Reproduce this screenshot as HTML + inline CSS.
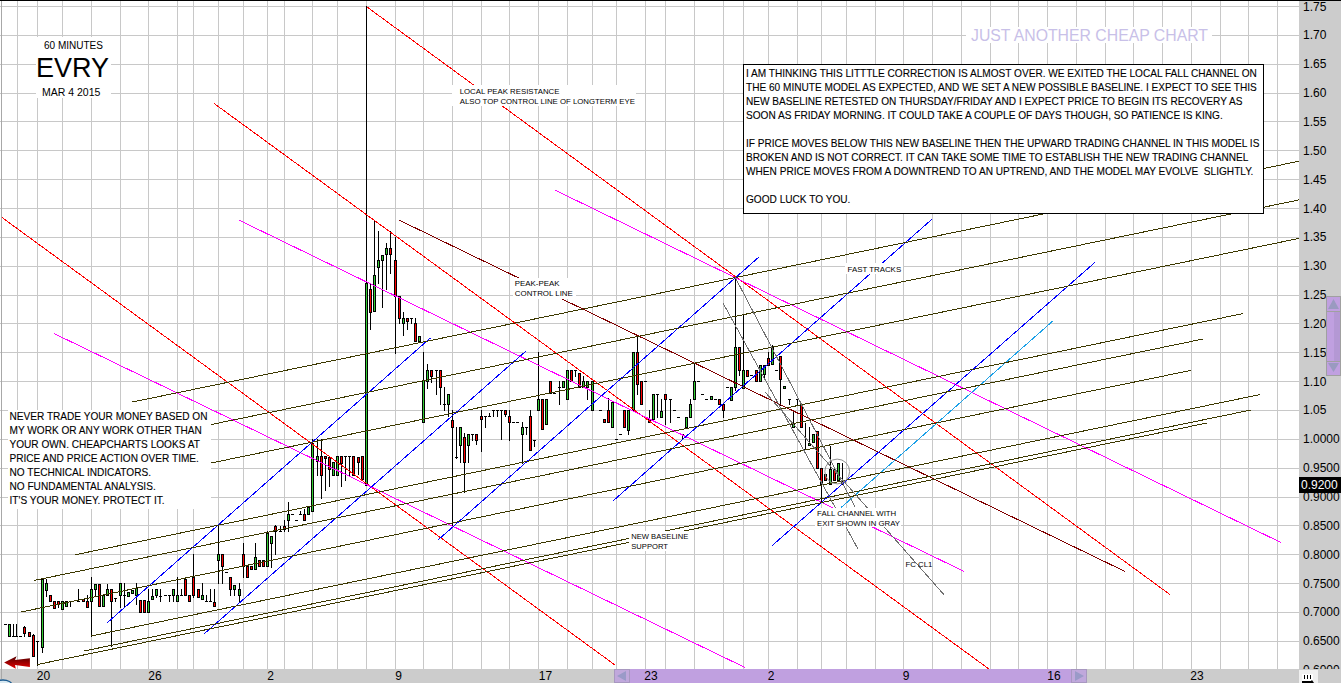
<!DOCTYPE html><html><head><meta charset="utf-8"><style>
html,body{margin:0;padding:0;background:#fff;overflow:hidden;}
#c{position:relative;width:1341px;height:683px;overflow:hidden;font-family:"Liberation Sans",sans-serif;}
svg{position:absolute;left:0;top:0;}
.t{position:absolute;white-space:pre;color:#000;} .s{-webkit-text-stroke:0.1px currentColor;}
.bg{position:absolute;background:#fff;}
.ax{position:absolute;font-size:12px;line-height:14px;color:#000;white-space:pre;}
</style></head><body><div id="c">
<svg width="1341" height="683" viewBox="0 0 1341 683" shape-rendering="crispEdges">
<path d="M17.5 0V669M37.5 0V669M62.5 0V669M91.5 0V669M120.5 0V669M148.5 0V669M177.5 0V669M193.5 0V669M218.5 0V669M243.5 0V669M267.5 0V669M284.5 0V669M312.5 0V669M337.5 0V669M366.5 0V669M395.5 0V669M423.5 0V669M452.5 0V669M481.5 0V669M509.5 0V669M538.5 0V669M567.5 0V669M592.5 0V669M616.5 0V669M645.5 0V669M665.5 0V669M694.5 0V669M723.5 0V669M743.5 0V669M768.5 0V669M797.5 0V669M821.5 0V669M846.5 0V669M875.5 0V669M903.5 0V669M932.5 0V669M961.5 0V669M990.5 0V669M1018.5 0V669M1047.5 0V669M1076.5 0V669M1105.5 0V669M1133.5 0V669M1162.5 0V669M1191.5 0V669M1220.5 0V669M1248.5 0V669M1277.5 0V669M0 6.5H1299M0 35.5H1299M0 64.5H1299M0 93.5H1299M0 121.5H1299M0 150.5H1299M0 179.5H1299M0 208.5H1299M0 237.5H1299M0 266.5H1299M0 295.5H1299M0 323.5H1299M0 352.5H1299M0 381.5H1299M0 410.5H1299M0 439.5H1299M0 468.5H1299M0 497.5H1299M0 525.5H1299M0 554.5H1299M0 583.5H1299M0 612.5H1299M0 641.5H1299" stroke="#c8c8c8" stroke-width="1" fill="none"/>
<path d="M1.5 0V679" stroke="#a8a8a8" stroke-width="1"/>
<g><rect x="4" y="624" width="3" height="1" fill="#000"/><rect x="9" y="624" width="1" height="13" fill="#000"/><rect x="8" y="624" width="3" height="13" fill="#000"/><rect x="9" y="625" width="1" height="11" fill="#33cc33"/><rect x="13" y="624" width="1" height="13" fill="#000"/><rect x="12" y="636" width="3" height="1" fill="#000"/><rect x="16" y="624" width="1" height="13" fill="#000"/><rect x="15" y="636" width="3" height="1" fill="#000"/><rect x="19" y="636" width="3" height="1" fill="#000"/><rect x="24" y="626" width="1" height="11" fill="#000"/><rect x="23" y="627" width="3" height="7" fill="#000"/><rect x="24" y="628" width="1" height="5" fill="#ff0000"/><rect x="29" y="632" width="1" height="5" fill="#000"/><rect x="28" y="632" width="3" height="5" fill="#000"/><rect x="29" y="633" width="1" height="3" fill="#ff0000"/><rect x="33" y="634" width="1" height="23" fill="#000"/><rect x="32" y="635" width="3" height="22" fill="#000"/><rect x="33" y="636" width="1" height="20" fill="#ff0000"/><rect x="37" y="641" width="1" height="25" fill="#000"/><rect x="36" y="641" width="3" height="1" fill="#000"/><rect x="42" y="579" width="1" height="74" fill="#000"/><rect x="41" y="579" width="3" height="69" fill="#000"/><rect x="42" y="580" width="1" height="67" fill="#33cc33"/><rect x="46" y="579" width="1" height="18" fill="#000"/><rect x="45" y="583" width="3" height="8" fill="#000"/><rect x="46" y="584" width="1" height="6" fill="#33cc33"/><rect x="50" y="595" width="1" height="7" fill="#000"/><rect x="49" y="595" width="3" height="7" fill="#000"/><rect x="50" y="596" width="1" height="5" fill="#ff0000"/><rect x="54" y="601" width="1" height="8" fill="#000"/><rect x="53" y="601" width="3" height="8" fill="#000"/><rect x="54" y="602" width="1" height="6" fill="#ff0000"/><rect x="58" y="601" width="1" height="7" fill="#000"/><rect x="57" y="601" width="3" height="4" fill="#000"/><rect x="58" y="602" width="1" height="2" fill="#ff0000"/><rect x="62" y="601" width="1" height="9" fill="#000"/><rect x="61" y="601" width="3" height="9" fill="#000"/><rect x="62" y="602" width="1" height="7" fill="#33cc33"/><rect x="66" y="601" width="1" height="6" fill="#000"/><rect x="65" y="601" width="3" height="6" fill="#000"/><rect x="66" y="602" width="1" height="4" fill="#33cc33"/><rect x="70" y="601" width="1" height="6" fill="#000"/><rect x="69" y="601" width="3" height="1" fill="#000"/><rect x="78" y="589" width="1" height="13" fill="#000"/><rect x="77" y="601" width="3" height="1" fill="#000"/><rect x="83" y="599" width="1" height="3" fill="#000"/><rect x="82" y="599" width="3" height="3" fill="#000"/><rect x="83" y="600" width="1" height="1" fill="#ff0000"/><rect x="87" y="595" width="1" height="13" fill="#000"/><rect x="86" y="601" width="3" height="7" fill="#000"/><rect x="87" y="602" width="1" height="5" fill="#ff0000"/><rect x="91" y="577" width="1" height="60" fill="#000"/><rect x="90" y="589" width="3" height="13" fill="#000"/><rect x="91" y="590" width="1" height="11" fill="#33cc33"/><rect x="95" y="584" width="1" height="12" fill="#000"/><rect x="94" y="584" width="3" height="6" fill="#000"/><rect x="95" y="585" width="1" height="4" fill="#33cc33"/><rect x="99" y="584" width="1" height="23" fill="#000"/><rect x="98" y="584" width="3" height="23" fill="#000"/><rect x="99" y="585" width="1" height="21" fill="#ff0000"/><rect x="103" y="595" width="1" height="12" fill="#000"/><rect x="102" y="595" width="3" height="12" fill="#000"/><rect x="103" y="596" width="1" height="10" fill="#33cc33"/><rect x="107" y="584" width="1" height="12" fill="#000"/><rect x="106" y="589" width="3" height="7" fill="#000"/><rect x="107" y="590" width="1" height="5" fill="#33cc33"/><rect x="111" y="589" width="1" height="58" fill="#000"/><rect x="110" y="589" width="3" height="13" fill="#000"/><rect x="111" y="590" width="1" height="11" fill="#ff0000"/><rect x="115" y="598" width="1" height="4" fill="#000"/><rect x="114" y="598" width="3" height="1" fill="#000"/><rect x="120" y="583" width="1" height="25" fill="#000"/><rect x="119" y="583" width="3" height="13" fill="#000"/><rect x="120" y="584" width="1" height="11" fill="#33cc33"/><rect x="124" y="583" width="1" height="24" fill="#000"/><rect x="123" y="595" width="3" height="1" fill="#000"/><rect x="128" y="592" width="1" height="5" fill="#000"/><rect x="127" y="592" width="3" height="5" fill="#000"/><rect x="128" y="593" width="1" height="3" fill="#33cc33"/><rect x="132" y="590" width="1" height="4" fill="#000"/><rect x="131" y="590" width="3" height="4" fill="#000"/><rect x="132" y="591" width="1" height="2" fill="#33cc33"/><rect x="136" y="583" width="1" height="22" fill="#000"/><rect x="135" y="588" width="3" height="8" fill="#000"/><rect x="136" y="589" width="1" height="6" fill="#33cc33"/><rect x="140" y="600" width="1" height="13" fill="#000"/><rect x="139" y="600" width="3" height="13" fill="#000"/><rect x="140" y="601" width="1" height="11" fill="#ff0000"/><rect x="144" y="600" width="1" height="13" fill="#000"/><rect x="143" y="600" width="3" height="13" fill="#000"/><rect x="144" y="601" width="1" height="11" fill="#ff0000"/><rect x="148" y="589" width="1" height="24" fill="#000"/><rect x="147" y="601" width="3" height="12" fill="#000"/><rect x="148" y="602" width="1" height="10" fill="#33cc33"/><rect x="152" y="589" width="1" height="11" fill="#000"/><rect x="151" y="596" width="3" height="4" fill="#000"/><rect x="152" y="597" width="1" height="2" fill="#33cc33"/><rect x="156" y="589" width="1" height="9" fill="#000"/><rect x="155" y="589" width="3" height="7" fill="#000"/><rect x="156" y="590" width="1" height="5" fill="#33cc33"/><rect x="160" y="589" width="1" height="13" fill="#000"/><rect x="159" y="596" width="3" height="1" fill="#000"/><rect x="164" y="595" width="3" height="1" fill="#000"/><rect x="169" y="595" width="1" height="7" fill="#000"/><rect x="168" y="595" width="3" height="1" fill="#000"/><rect x="173" y="589" width="1" height="13" fill="#000"/><rect x="172" y="589" width="3" height="7" fill="#000"/><rect x="173" y="590" width="1" height="5" fill="#33cc33"/><rect x="177" y="577" width="1" height="25" fill="#000"/><rect x="176" y="595" width="3" height="7" fill="#000"/><rect x="177" y="596" width="1" height="5" fill="#33cc33"/><rect x="181" y="589" width="1" height="7" fill="#000"/><rect x="180" y="595" width="3" height="1" fill="#000"/><rect x="185" y="579" width="1" height="17" fill="#000"/><rect x="184" y="579" width="3" height="17" fill="#000"/><rect x="185" y="580" width="1" height="15" fill="#ff0000"/><rect x="189" y="595" width="1" height="7" fill="#000"/><rect x="188" y="595" width="3" height="7" fill="#000"/><rect x="189" y="596" width="1" height="5" fill="#ff0000"/><rect x="193" y="554" width="1" height="44" fill="#000"/><rect x="192" y="577" width="3" height="19" fill="#000"/><rect x="193" y="578" width="1" height="17" fill="#ff0000"/><rect x="198" y="589" width="1" height="9" fill="#000"/><rect x="197" y="589" width="3" height="9" fill="#000"/><rect x="198" y="590" width="1" height="7" fill="#ff0000"/><rect x="202" y="583" width="1" height="17" fill="#000"/><rect x="201" y="595" width="3" height="5" fill="#000"/><rect x="202" y="596" width="1" height="3" fill="#33cc33"/><rect x="206" y="595" width="1" height="7" fill="#000"/><rect x="205" y="601" width="3" height="1" fill="#000"/><rect x="210" y="589" width="1" height="13" fill="#000"/><rect x="209" y="601" width="3" height="1" fill="#000"/><rect x="214" y="589" width="1" height="18" fill="#000"/><rect x="213" y="602" width="3" height="5" fill="#000"/><rect x="214" y="603" width="1" height="3" fill="#ff0000"/><rect x="218" y="525" width="1" height="59" fill="#000"/><rect x="217" y="554" width="3" height="7" fill="#000"/><rect x="218" y="555" width="1" height="5" fill="#33cc33"/><rect x="222" y="554" width="1" height="30" fill="#000"/><rect x="221" y="554" width="3" height="13" fill="#000"/><rect x="222" y="555" width="1" height="11" fill="#ff0000"/><rect x="225" y="572" width="3" height="1" fill="#000"/><rect x="230" y="577" width="1" height="19" fill="#000"/><rect x="229" y="577" width="3" height="13" fill="#000"/><rect x="230" y="578" width="1" height="11" fill="#ff0000"/><rect x="234" y="585" width="1" height="11" fill="#000"/><rect x="233" y="585" width="3" height="5" fill="#000"/><rect x="234" y="586" width="1" height="3" fill="#33cc33"/><rect x="239" y="583" width="1" height="19" fill="#000"/><rect x="238" y="589" width="3" height="7" fill="#000"/><rect x="239" y="590" width="1" height="5" fill="#33cc33"/><rect x="243" y="543" width="1" height="35" fill="#000"/><rect x="242" y="554" width="3" height="13" fill="#000"/><rect x="243" y="555" width="1" height="11" fill="#ff0000"/><rect x="247" y="566" width="1" height="12" fill="#000"/><rect x="246" y="566" width="3" height="12" fill="#000"/><rect x="247" y="567" width="1" height="10" fill="#ff0000"/><rect x="251" y="566" width="1" height="4" fill="#000"/><rect x="250" y="566" width="3" height="4" fill="#000"/><rect x="251" y="567" width="1" height="2" fill="#ff0000"/><rect x="255" y="543" width="1" height="27" fill="#000"/><rect x="254" y="557" width="3" height="13" fill="#000"/><rect x="255" y="558" width="1" height="11" fill="#33cc33"/><rect x="259" y="560" width="1" height="7" fill="#000"/><rect x="258" y="560" width="3" height="7" fill="#000"/><rect x="259" y="561" width="1" height="5" fill="#ff0000"/><rect x="263" y="560" width="1" height="7" fill="#000"/><rect x="262" y="560" width="3" height="7" fill="#000"/><rect x="263" y="561" width="1" height="5" fill="#ff0000"/><rect x="267" y="531" width="1" height="36" fill="#000"/><rect x="266" y="533" width="3" height="34" fill="#000"/><rect x="267" y="534" width="1" height="32" fill="#33cc33"/><rect x="271" y="536" width="1" height="32" fill="#000"/><rect x="270" y="536" width="3" height="8" fill="#000"/><rect x="271" y="537" width="1" height="6" fill="#33cc33"/><rect x="275" y="525" width="1" height="30" fill="#000"/><rect x="274" y="526" width="3" height="6" fill="#000"/><rect x="275" y="527" width="1" height="4" fill="#ff0000"/><rect x="280" y="526" width="1" height="6" fill="#000"/><rect x="279" y="531" width="3" height="1" fill="#000"/><rect x="284" y="520" width="1" height="12" fill="#000"/><rect x="283" y="526" width="3" height="4" fill="#000"/><rect x="284" y="527" width="1" height="2" fill="#ff0000"/><rect x="288" y="502" width="1" height="30" fill="#000"/><rect x="287" y="514" width="3" height="7" fill="#000"/><rect x="288" y="515" width="1" height="5" fill="#33cc33"/><rect x="291" y="514" width="3" height="1" fill="#000"/><rect x="295" y="520" width="3" height="1" fill="#000"/><rect x="300" y="511" width="1" height="4" fill="#000"/><rect x="299" y="514" width="3" height="1" fill="#000"/><rect x="304" y="509" width="1" height="12" fill="#000"/><rect x="303" y="514" width="3" height="7" fill="#000"/><rect x="304" y="515" width="1" height="5" fill="#ff0000"/><rect x="308" y="507" width="1" height="8" fill="#000"/><rect x="307" y="507" width="3" height="8" fill="#000"/><rect x="308" y="508" width="1" height="6" fill="#33cc33"/><rect x="312" y="439" width="1" height="73" fill="#000"/><rect x="311" y="443" width="3" height="69" fill="#000"/><rect x="312" y="444" width="1" height="67" fill="#33cc33"/><rect x="317" y="439" width="1" height="37" fill="#000"/><rect x="316" y="456" width="3" height="6" fill="#000"/><rect x="317" y="457" width="1" height="4" fill="#33cc33"/><rect x="321" y="439" width="1" height="60" fill="#000"/><rect x="320" y="456" width="3" height="20" fill="#000"/><rect x="321" y="457" width="1" height="18" fill="#ff0000"/><rect x="325" y="456" width="1" height="35" fill="#000"/><rect x="324" y="456" width="3" height="3" fill="#000"/><rect x="325" y="457" width="1" height="1" fill="#ff0000"/><rect x="329" y="457" width="1" height="30" fill="#000"/><rect x="328" y="457" width="3" height="13" fill="#000"/><rect x="329" y="458" width="1" height="11" fill="#ff0000"/><rect x="333" y="462" width="1" height="14" fill="#000"/><rect x="332" y="462" width="3" height="14" fill="#000"/><rect x="333" y="463" width="1" height="12" fill="#33cc33"/><rect x="337" y="456" width="1" height="20" fill="#000"/><rect x="336" y="456" width="3" height="20" fill="#000"/><rect x="337" y="457" width="1" height="18" fill="#33cc33"/><rect x="341" y="456" width="1" height="31" fill="#000"/><rect x="340" y="456" width="3" height="8" fill="#000"/><rect x="341" y="457" width="1" height="6" fill="#ff0000"/><rect x="345" y="456" width="1" height="25" fill="#000"/><rect x="344" y="456" width="3" height="1" fill="#000"/><rect x="349" y="456" width="1" height="20" fill="#000"/><rect x="348" y="456" width="3" height="1" fill="#000"/><rect x="353" y="456" width="1" height="20" fill="#000"/><rect x="352" y="456" width="3" height="20" fill="#000"/><rect x="353" y="457" width="1" height="18" fill="#ff0000"/><rect x="358" y="457" width="1" height="18" fill="#000"/><rect x="357" y="457" width="3" height="6" fill="#000"/><rect x="358" y="458" width="1" height="4" fill="#ff0000"/><rect x="362" y="456" width="1" height="24" fill="#000"/><rect x="361" y="456" width="3" height="24" fill="#000"/><rect x="362" y="457" width="1" height="22" fill="#ff0000"/><rect x="366" y="6" width="1" height="480" fill="#000"/><rect x="365" y="283" width="3" height="203" fill="#000"/><rect x="366" y="284" width="1" height="201" fill="#33cc33"/><rect x="370" y="283" width="1" height="47" fill="#000"/><rect x="369" y="289" width="3" height="24" fill="#000"/><rect x="370" y="290" width="1" height="22" fill="#ff0000"/><rect x="374" y="221" width="1" height="91" fill="#000"/><rect x="373" y="275" width="3" height="37" fill="#000"/><rect x="374" y="276" width="1" height="35" fill="#33cc33"/><rect x="378" y="231" width="1" height="53" fill="#000"/><rect x="377" y="260" width="3" height="8" fill="#000"/><rect x="378" y="261" width="1" height="6" fill="#33cc33"/><rect x="382" y="255" width="1" height="53" fill="#000"/><rect x="381" y="255" width="3" height="6" fill="#000"/><rect x="382" y="256" width="1" height="4" fill="#33cc33"/><rect x="386" y="243" width="1" height="47" fill="#000"/><rect x="385" y="248" width="3" height="7" fill="#000"/><rect x="386" y="249" width="1" height="5" fill="#33cc33"/><rect x="390" y="231" width="1" height="43" fill="#000"/><rect x="389" y="248" width="3" height="7" fill="#000"/><rect x="390" y="249" width="1" height="5" fill="#ff0000"/><rect x="395" y="237" width="1" height="117" fill="#000"/><rect x="394" y="260" width="3" height="37" fill="#000"/><rect x="395" y="261" width="1" height="35" fill="#ff0000"/><rect x="399" y="296" width="1" height="28" fill="#000"/><rect x="398" y="296" width="3" height="23" fill="#000"/><rect x="399" y="297" width="1" height="21" fill="#ff0000"/><rect x="403" y="312" width="1" height="24" fill="#000"/><rect x="402" y="318" width="3" height="6" fill="#000"/><rect x="403" y="319" width="1" height="4" fill="#33cc33"/><rect x="407" y="318" width="1" height="12" fill="#000"/><rect x="406" y="318" width="3" height="4" fill="#000"/><rect x="407" y="319" width="1" height="2" fill="#ff0000"/><rect x="411" y="318" width="1" height="6" fill="#000"/><rect x="410" y="318" width="3" height="1" fill="#000"/><rect x="415" y="318" width="1" height="24" fill="#000"/><rect x="414" y="323" width="3" height="19" fill="#000"/><rect x="415" y="324" width="1" height="17" fill="#ff0000"/><rect x="419" y="336" width="1" height="6" fill="#000"/><rect x="418" y="336" width="3" height="6" fill="#000"/><rect x="419" y="337" width="1" height="4" fill="#33cc33"/><rect x="423" y="352" width="1" height="71" fill="#000"/><rect x="422" y="380" width="3" height="43" fill="#000"/><rect x="423" y="381" width="1" height="41" fill="#33cc33"/><rect x="427" y="364" width="1" height="25" fill="#000"/><rect x="426" y="370" width="3" height="12" fill="#000"/><rect x="427" y="371" width="1" height="10" fill="#33cc33"/><rect x="431" y="370" width="1" height="13" fill="#000"/><rect x="430" y="370" width="3" height="7" fill="#000"/><rect x="431" y="371" width="1" height="5" fill="#ff0000"/><rect x="436" y="370" width="1" height="25" fill="#000"/><rect x="435" y="370" width="3" height="1" fill="#000"/><rect x="440" y="370" width="1" height="35" fill="#000"/><rect x="439" y="370" width="3" height="18" fill="#000"/><rect x="440" y="371" width="1" height="16" fill="#ff0000"/><rect x="444" y="387" width="1" height="24" fill="#000"/><rect x="443" y="404" width="3" height="1" fill="#000"/><rect x="448" y="394" width="1" height="23" fill="#000"/><rect x="447" y="394" width="3" height="11" fill="#000"/><rect x="448" y="395" width="1" height="9" fill="#33cc33"/><rect x="452" y="410" width="1" height="117" fill="#000"/><rect x="451" y="420" width="3" height="8" fill="#000"/><rect x="452" y="421" width="1" height="6" fill="#ff0000"/><rect x="456" y="427" width="1" height="32" fill="#000"/><rect x="455" y="457" width="3" height="1" fill="#000"/><rect x="460" y="427" width="1" height="36" fill="#000"/><rect x="459" y="427" width="3" height="19" fill="#000"/><rect x="460" y="428" width="1" height="17" fill="#33cc33"/><rect x="464" y="433" width="1" height="60" fill="#000"/><rect x="463" y="437" width="3" height="26" fill="#000"/><rect x="464" y="438" width="1" height="24" fill="#ff0000"/><rect x="468" y="434" width="1" height="29" fill="#000"/><rect x="467" y="434" width="3" height="12" fill="#000"/><rect x="468" y="435" width="1" height="10" fill="#33cc33"/><rect x="472" y="434" width="1" height="7" fill="#000"/><rect x="471" y="434" width="3" height="1" fill="#000"/><rect x="476" y="434" width="1" height="11" fill="#000"/><rect x="475" y="434" width="3" height="7" fill="#000"/><rect x="476" y="435" width="1" height="5" fill="#ff0000"/><rect x="481" y="410" width="1" height="42" fill="#000"/><rect x="480" y="416" width="3" height="4" fill="#000"/><rect x="481" y="417" width="1" height="2" fill="#ff0000"/><rect x="485" y="416" width="1" height="12" fill="#000"/><rect x="484" y="416" width="3" height="1" fill="#000"/><rect x="489" y="413" width="1" height="4" fill="#000"/><rect x="488" y="416" width="3" height="1" fill="#000"/><rect x="493" y="410" width="1" height="7" fill="#000"/><rect x="492" y="410" width="3" height="1" fill="#000"/><rect x="497" y="410" width="1" height="7" fill="#000"/><rect x="496" y="410" width="3" height="1" fill="#000"/><rect x="501" y="410" width="1" height="30" fill="#000"/><rect x="500" y="410" width="3" height="1" fill="#000"/><rect x="505" y="410" width="1" height="7" fill="#000"/><rect x="504" y="410" width="3" height="5" fill="#000"/><rect x="505" y="411" width="1" height="3" fill="#ff0000"/><rect x="509" y="410" width="1" height="31" fill="#000"/><rect x="508" y="416" width="3" height="7" fill="#000"/><rect x="509" y="417" width="1" height="5" fill="#ff0000"/><rect x="512" y="422" width="3" height="1" fill="#000"/><rect x="516" y="422" width="3" height="1" fill="#000"/><rect x="522" y="422" width="1" height="42" fill="#000"/><rect x="521" y="427" width="3" height="8" fill="#000"/><rect x="522" y="428" width="1" height="6" fill="#33cc33"/><rect x="526" y="427" width="1" height="8" fill="#000"/><rect x="525" y="427" width="3" height="1" fill="#000"/><rect x="530" y="410" width="1" height="41" fill="#000"/><rect x="529" y="416" width="3" height="35" fill="#000"/><rect x="530" y="417" width="1" height="33" fill="#ff0000"/><rect x="534" y="440" width="1" height="7" fill="#000"/><rect x="533" y="440" width="3" height="1" fill="#000"/><rect x="538" y="352" width="1" height="59" fill="#000"/><rect x="537" y="399" width="3" height="12" fill="#000"/><rect x="538" y="400" width="1" height="10" fill="#33cc33"/><rect x="542" y="399" width="1" height="31" fill="#000"/><rect x="541" y="399" width="3" height="31" fill="#000"/><rect x="542" y="400" width="1" height="29" fill="#ff0000"/><rect x="546" y="399" width="1" height="26" fill="#000"/><rect x="545" y="399" width="3" height="26" fill="#000"/><rect x="546" y="400" width="1" height="24" fill="#33cc33"/><rect x="550" y="381" width="1" height="13" fill="#000"/><rect x="549" y="381" width="3" height="13" fill="#000"/><rect x="550" y="382" width="1" height="11" fill="#ff0000"/><rect x="553" y="393" width="3" height="1" fill="#000"/><rect x="559" y="381" width="1" height="24" fill="#000"/><rect x="558" y="387" width="3" height="1" fill="#000"/><rect x="563" y="381" width="1" height="7" fill="#000"/><rect x="562" y="381" width="3" height="7" fill="#000"/><rect x="563" y="382" width="1" height="5" fill="#33cc33"/><rect x="567" y="370" width="1" height="30" fill="#000"/><rect x="566" y="370" width="3" height="30" fill="#000"/><rect x="567" y="371" width="1" height="28" fill="#33cc33"/><rect x="571" y="370" width="1" height="12" fill="#000"/><rect x="570" y="370" width="3" height="12" fill="#000"/><rect x="571" y="371" width="1" height="10" fill="#ff0000"/><rect x="575" y="370" width="1" height="7" fill="#000"/><rect x="574" y="370" width="3" height="1" fill="#000"/><rect x="579" y="373" width="1" height="15" fill="#000"/><rect x="578" y="373" width="3" height="15" fill="#000"/><rect x="579" y="374" width="1" height="13" fill="#ff0000"/><rect x="583" y="376" width="1" height="12" fill="#000"/><rect x="582" y="381" width="3" height="7" fill="#000"/><rect x="583" y="382" width="1" height="5" fill="#33cc33"/><rect x="587" y="381" width="1" height="19" fill="#000"/><rect x="586" y="381" width="3" height="7" fill="#000"/><rect x="587" y="382" width="1" height="5" fill="#33cc33"/><rect x="592" y="381" width="1" height="30" fill="#000"/><rect x="591" y="381" width="3" height="30" fill="#000"/><rect x="592" y="382" width="1" height="28" fill="#33cc33"/><rect x="599" y="410" width="3" height="1" fill="#000"/><rect x="604" y="419" width="1" height="4" fill="#000"/><rect x="603" y="419" width="3" height="4" fill="#000"/><rect x="604" y="420" width="1" height="2" fill="#ff0000"/><rect x="608" y="398" width="1" height="25" fill="#000"/><rect x="607" y="410" width="3" height="13" fill="#000"/><rect x="608" y="411" width="1" height="11" fill="#ff0000"/><rect x="612" y="402" width="1" height="26" fill="#000"/><rect x="611" y="402" width="3" height="26" fill="#000"/><rect x="612" y="403" width="1" height="24" fill="#33cc33"/><rect x="615" y="439" width="3" height="1" fill="#000"/><rect x="619" y="434" width="3" height="1" fill="#000"/><rect x="624" y="410" width="1" height="18" fill="#000"/><rect x="623" y="410" width="3" height="18" fill="#000"/><rect x="624" y="411" width="1" height="16" fill="#ff0000"/><rect x="628" y="410" width="1" height="25" fill="#000"/><rect x="627" y="410" width="3" height="21" fill="#000"/><rect x="628" y="411" width="1" height="19" fill="#33cc33"/><rect x="633" y="352" width="1" height="59" fill="#000"/><rect x="632" y="352" width="3" height="59" fill="#000"/><rect x="633" y="353" width="1" height="57" fill="#33cc33"/><rect x="637" y="336" width="1" height="59" fill="#000"/><rect x="636" y="352" width="3" height="33" fill="#000"/><rect x="637" y="353" width="1" height="31" fill="#ff0000"/><rect x="641" y="381" width="1" height="24" fill="#000"/><rect x="640" y="381" width="3" height="24" fill="#000"/><rect x="641" y="382" width="1" height="22" fill="#ff0000"/><rect x="644" y="381" width="3" height="1" fill="#000"/><rect x="649" y="410" width="1" height="13" fill="#000"/><rect x="648" y="419" width="3" height="4" fill="#000"/><rect x="649" y="420" width="1" height="2" fill="#ff0000"/><rect x="653" y="394" width="1" height="26" fill="#000"/><rect x="652" y="394" width="3" height="26" fill="#000"/><rect x="653" y="395" width="1" height="24" fill="#33cc33"/><rect x="657" y="394" width="1" height="24" fill="#000"/><rect x="656" y="394" width="3" height="1" fill="#000"/><rect x="661" y="399" width="1" height="19" fill="#000"/><rect x="660" y="411" width="3" height="7" fill="#000"/><rect x="661" y="412" width="1" height="5" fill="#33cc33"/><rect x="665" y="394" width="1" height="31" fill="#000"/><rect x="664" y="394" width="3" height="6" fill="#000"/><rect x="665" y="395" width="1" height="4" fill="#ff0000"/><rect x="670" y="399" width="1" height="24" fill="#000"/><rect x="669" y="399" width="3" height="1" fill="#000"/><rect x="673" y="410" width="3" height="1" fill="#000"/><rect x="677" y="417" width="3" height="1" fill="#000"/><rect x="682" y="434" width="1" height="6" fill="#000"/><rect x="681" y="434" width="3" height="1" fill="#000"/><rect x="686" y="417" width="1" height="11" fill="#000"/><rect x="685" y="417" width="3" height="11" fill="#000"/><rect x="686" y="418" width="1" height="9" fill="#33cc33"/><rect x="690" y="399" width="1" height="19" fill="#000"/><rect x="689" y="404" width="3" height="14" fill="#000"/><rect x="690" y="405" width="1" height="12" fill="#33cc33"/><rect x="694" y="363" width="1" height="37" fill="#000"/><rect x="693" y="381" width="3" height="19" fill="#000"/><rect x="694" y="382" width="1" height="17" fill="#33cc33"/><rect x="697" y="381" width="3" height="1" fill="#000"/><rect x="701" y="394" width="3" height="1" fill="#000"/><rect x="705" y="399" width="3" height="1" fill="#000"/><rect x="711" y="396" width="1" height="4" fill="#000"/><rect x="710" y="396" width="3" height="4" fill="#000"/><rect x="711" y="397" width="1" height="2" fill="#33cc33"/><rect x="714" y="399" width="3" height="1" fill="#000"/><rect x="719" y="399" width="1" height="6" fill="#000"/><rect x="718" y="399" width="3" height="6" fill="#000"/><rect x="719" y="400" width="1" height="4" fill="#ff0000"/><rect x="723" y="404" width="1" height="14" fill="#000"/><rect x="722" y="404" width="3" height="7" fill="#000"/><rect x="723" y="405" width="1" height="5" fill="#ff0000"/><rect x="726" y="387" width="3" height="1" fill="#000"/><rect x="731" y="387" width="1" height="14" fill="#000"/><rect x="730" y="387" width="3" height="14" fill="#000"/><rect x="731" y="388" width="1" height="12" fill="#33cc33"/><rect x="735" y="277" width="1" height="114" fill="#000"/><rect x="734" y="347" width="3" height="41" fill="#000"/><rect x="735" y="348" width="1" height="39" fill="#33cc33"/><rect x="739" y="347" width="1" height="29" fill="#000"/><rect x="738" y="347" width="3" height="24" fill="#000"/><rect x="739" y="348" width="1" height="22" fill="#ff0000"/><rect x="743" y="314" width="1" height="75" fill="#000"/><rect x="742" y="370" width="3" height="19" fill="#000"/><rect x="743" y="371" width="1" height="17" fill="#33cc33"/><rect x="747" y="370" width="1" height="7" fill="#000"/><rect x="746" y="370" width="3" height="7" fill="#000"/><rect x="747" y="371" width="1" height="5" fill="#ff0000"/><rect x="750" y="375" width="3" height="1" fill="#000"/><rect x="756" y="370" width="1" height="12" fill="#000"/><rect x="755" y="370" width="3" height="12" fill="#000"/><rect x="756" y="371" width="1" height="10" fill="#ff0000"/><rect x="760" y="365" width="1" height="17" fill="#000"/><rect x="759" y="365" width="3" height="17" fill="#000"/><rect x="760" y="366" width="1" height="15" fill="#33cc33"/><rect x="764" y="365" width="1" height="14" fill="#000"/><rect x="763" y="365" width="3" height="10" fill="#000"/><rect x="764" y="366" width="1" height="8" fill="#33cc33"/><rect x="768" y="352" width="1" height="14" fill="#000"/><rect x="767" y="358" width="3" height="8" fill="#000"/><rect x="768" y="359" width="1" height="6" fill="#ff0000"/><rect x="772" y="345" width="1" height="20" fill="#000"/><rect x="771" y="347" width="3" height="18" fill="#000"/><rect x="772" y="348" width="1" height="16" fill="#33cc33"/><rect x="775" y="370" width="3" height="1" fill="#000"/><rect x="780" y="356" width="1" height="50" fill="#000"/><rect x="779" y="356" width="3" height="24" fill="#000"/><rect x="780" y="357" width="1" height="22" fill="#ff0000"/><rect x="784" y="386" width="1" height="3" fill="#000"/><rect x="783" y="386" width="3" height="3" fill="#000"/><rect x="784" y="387" width="1" height="1" fill="#33cc33"/><rect x="789" y="399" width="1" height="6" fill="#000"/><rect x="788" y="399" width="3" height="1" fill="#000"/><rect x="793" y="411" width="1" height="17" fill="#000"/><rect x="792" y="424" width="3" height="4" fill="#000"/><rect x="793" y="425" width="1" height="2" fill="#33cc33"/><rect x="797" y="399" width="1" height="6" fill="#000"/><rect x="796" y="399" width="3" height="1" fill="#000"/><rect x="801" y="404" width="1" height="24" fill="#000"/><rect x="800" y="405" width="3" height="23" fill="#000"/><rect x="801" y="406" width="1" height="21" fill="#ff0000"/><rect x="805" y="423" width="1" height="27" fill="#000"/><rect x="804" y="449" width="3" height="1" fill="#000"/><rect x="809" y="427" width="1" height="19" fill="#000"/><rect x="808" y="443" width="3" height="3" fill="#000"/><rect x="809" y="444" width="1" height="1" fill="#33cc33"/><rect x="813" y="434" width="1" height="9" fill="#000"/><rect x="812" y="434" width="3" height="9" fill="#000"/><rect x="813" y="435" width="1" height="7" fill="#33cc33"/><rect x="817" y="431" width="1" height="38" fill="#000"/><rect x="816" y="431" width="3" height="38" fill="#000"/><rect x="817" y="432" width="1" height="36" fill="#ff0000"/><rect x="821" y="468" width="1" height="35" fill="#000"/><rect x="820" y="468" width="3" height="17" fill="#000"/><rect x="821" y="469" width="1" height="15" fill="#ff0000"/><rect x="825" y="474" width="1" height="7" fill="#000"/><rect x="824" y="474" width="3" height="7" fill="#000"/><rect x="825" y="475" width="1" height="5" fill="#ff0000"/><rect x="830" y="446" width="1" height="39" fill="#000"/><rect x="829" y="469" width="3" height="16" fill="#000"/><rect x="830" y="470" width="1" height="14" fill="#33cc33"/><rect x="834" y="469" width="1" height="12" fill="#000"/><rect x="833" y="469" width="3" height="12" fill="#000"/><rect x="834" y="470" width="1" height="10" fill="#ff0000"/><rect x="838" y="463" width="1" height="18" fill="#000"/><rect x="837" y="463" width="3" height="18" fill="#000"/><rect x="838" y="464" width="1" height="16" fill="#33cc33"/><rect x="842" y="463" width="1" height="22" fill="#000"/><rect x="841" y="482" width="3" height="3" fill="#000"/><rect x="842" y="483" width="1" height="1" fill="#ff0000"/></g>
<g fill="none" stroke-width="1">
<path d="M367.0 7.0 L1170.0 594.6" stroke="#ff0000"/>
<path d="M213.9 103.3 L988.5 668.7" stroke="#ff0000"/>
<path d="M2.0 217.5 L615.0 665.0" stroke="#ff0000"/>
<path d="M555.4 190.3 L1280.7 542.4" stroke="#ff00ff"/>
<path d="M238.9 220.1 L964.4 571.6" stroke="#ff00ff"/>
<path d="M54.0 333.5 L745.0 667.5" stroke="#ff00ff"/>
<path d="M399.1 220.1 L1124.8 571.4" stroke="#800000"/>
<path d="M107.5 622.5 L430.6 337.8" stroke="#0000ff"/>
<path d="M204.0 634.0 L526.0 351.0" stroke="#0000ff"/>
<path d="M438.0 540.0 L759.5 256.5" stroke="#0000ff"/>
<path d="M613.0 501.0 L931.6 219.5" stroke="#0000ff"/>
<path d="M772.0 545.7 L1094.8 262.5" stroke="#0000ff"/>
<path d="M841.0 507.6 L1053.4 320.5" stroke="#1aa0e8"/>
<path d="M132.5 402.0 L1299.0 161.2" stroke="#3c3800"/>
<path d="M100.0 447.5 L1299.0 199.9" stroke="#3c3800"/>
<path d="M60.0 494.2 L1299.0 238.4" stroke="#3c3800"/>
<path d="M75.0 554.8 L1243.4 313.5" stroke="#3c3800"/>
<path d="M33.8 580.5 L1202.7 339.1" stroke="#3c3800"/>
<path d="M21.0 612.0 L1190.7 370.4" stroke="#3c3800"/>
<path d="M91.0 636.0 L1260.3 394.5" stroke="#3c3800"/>
<path d="M84.0 651.0 L1251.0 410.0" stroke="#3c3800"/>
<path d="M37.5 664.5 L1207.0 423.0" stroke="#3c3800"/>
<path d="M735.0 277.0 L855.0 507.0" stroke="#707070"/>
<path d="M723.0 303.0 L858.0 549.0" stroke="#707070"/>
<path d="M765.0 392.0 L944.5 595.3" stroke="#707070"/>
</g>
<circle cx="837.2" cy="471.5" r="12.4" fill="none" stroke="#909090" stroke-width="1" shape-rendering="auto"/>
</svg>
<div class="bg" style="left:36px;top:37px;width:75px;height:61px"></div>
<div class="t " style="left:44px;top:40.0px;font-size:10px;line-height:12px;color:#000;">60 MINUTES</div>
<div class="t " style="left:36px;top:53.45px;font-size:27px;line-height:30px;color:#000;">EVRY</div>
<div class="t " style="left:42px;top:86.2px;font-size:10.5px;line-height:12px;color:#000;">MAR 4 2015</div>
<div class="bg" style="left:966px;top:27px;width:246px;height:16px"></div>
<div class="t " style="left:971px;top:27.099999999999998px;font-size:15.8px;line-height:18px;color:#c8c0e8;">JUST ANOTHER CHEAP CHART</div>
<div class="bg" style="left:452px;top:85px;width:184px;height:21px"></div>
<div class="t " style="left:459.7px;top:87.2px;font-size:7.8px;line-height:10px;color:#000;">LOCAL PEAK RESISTANCE
ALSO TOP CONTROL LINE OF LONGTERM EYE</div>
<div class="bg" style="left:513px;top:278px;width:63px;height:21px"></div>
<div class="t " style="left:514.8px;top:278.7px;font-size:7.9px;line-height:10.3px;color:#000;">PEAK-PEAK
CONTROL LINE</div>
<div class="bg" style="left:845px;top:263px;width:58px;height:11px"></div>
<div class="t " style="left:847.5px;top:264.7px;font-size:7.9px;line-height:10px;color:#000;">FAST TRACKS</div>
<div class="bg" style="left:629px;top:531px;width:61px;height:20px"></div>
<div class="t " style="left:631.3px;top:532.2px;font-size:7.6px;line-height:10px;color:#000;">NEW BASELINE
SUPPORT</div>
<div class="bg" style="left:815px;top:508px;width:86px;height:19px"></div>
<div class="t " style="left:817.1px;top:509.2px;font-size:7.8px;line-height:10px;color:#000;">FALL CHANNEL WITH
EXIT SHOWN IN GRAY</div>
<div class="t " style="left:905.5px;top:560.2px;font-size:7.8px;line-height:10px;color:#000;">FC CL1</div>
<div class="bg" style="left:8px;top:410px;width:203px;height:99px"></div>
<div class="t s" style="left:9.5px;top:410.4px;font-size:10.1px;line-height:14px;color:#000;">NEVER TRADE YOUR MONEY BASED ON
MY WORK OR ANY WORK OTHER THAN
YOUR OWN. CHEAPCHARTS LOOKS AT
PRICE AND PRICE ACTION OVER TIME.
NO TECHNICAL INDICATORS.
NO FUNDAMENTAL ANALYSIS.
IT'S YOUR MONEY. PROTECT IT.</div>
<div style="position:absolute;left:743px;top:64px;width:519px;height:148px;border:1px solid #000;background:#fff;"></div>
<div class="t s" style="left:746px;top:67.2px;font-size:10.1px;line-height:14px;color:#000;">I AM THINKING THIS LITTTLE CORRECTION IS ALMOST OVER. WE EXITED THE LOCAL FALL CHANNEL ON
THE 60 MINUTE MODEL AS EXPECTED, AND WE SET A NEW POSSIBLE BASELINE. I EXPECT TO SEE THIS
NEW BASELINE RETESTED ON THURSDAY/FRIDAY AND I EXPECT PRICE TO BEGIN ITS RECOVERY AS
SOON AS FRIDAY MORNING. IT COULD TAKE A COUPLE OF DAYS THOUGH, SO PATIENCE IS KING.

IF PRICE MOVES BELOW THIS NEW BASELINE THEN THE UPWARD TRADING CHANNEL IN THIS MODEL IS
BROKEN AND IS NOT CORRECT. IT CAN TAKE SOME TIME TO ESTABLISH THE NEW TRADING CHANNEL
WHEN PRICE MOVES FROM A DOWNTREND TO AN UPTREND, AND THE MODEL MAY EVOLVE  SLIGHTLY.

GOOD LUCK TO YOU.</div>
<div style="position:absolute;left:0;top:0;width:1341px;height:1px;background:#000"></div>
<div style="position:absolute;left:1299px;top:1px;width:42px;height:682px;background:#cccccc"></div>
<div class="ax" style="left:1303px;top:-0.5px">1.75</div>
<div class="ax" style="left:1303px;top:28.4px">1.70</div>
<div class="ax" style="left:1303px;top:57.2px">1.65</div>
<div class="ax" style="left:1303px;top:86.1px">1.60</div>
<div class="ax" style="left:1303px;top:114.9px">1.55</div>
<div class="ax" style="left:1303px;top:143.8px">1.50</div>
<div class="ax" style="left:1303px;top:172.6px">1.45</div>
<div class="ax" style="left:1303px;top:201.5px">1.40</div>
<div class="ax" style="left:1303px;top:230.3px">1.35</div>
<div class="ax" style="left:1303px;top:259.2px">1.30</div>
<div class="ax" style="left:1303px;top:288.0px">1.25</div>
<div class="ax" style="left:1303px;top:316.9px">1.20</div>
<div class="ax" style="left:1303px;top:345.7px">1.15</div>
<div class="ax" style="left:1303px;top:374.6px">1.10</div>
<div class="ax" style="left:1303px;top:403.4px">1.05</div>
<div class="ax" style="left:1303px;top:432.2px">1.0000</div>
<div class="ax" style="left:1303px;top:461.1px">0.9500</div>
<div class="ax" style="left:1303px;top:490.0px">0.9000</div>
<div class="ax" style="left:1303px;top:518.8px">0.8500</div>
<div class="ax" style="left:1303px;top:547.6px">0.8000</div>
<div class="ax" style="left:1303px;top:576.5px">0.7500</div>
<div class="ax" style="left:1303px;top:605.4px">0.7000</div>
<div class="ax" style="left:1303px;top:634.2px">0.6500</div>
<div class="ax" style="left:1303px;top:663.1px">0.6000</div>
<svg style="position:absolute;left:1326px;top:296px" width="15" height="80" shape-rendering="crispEdges"><rect x="0" y="0" width="15" height="80" fill="#c0a0e0"/><rect x="8" y="16" width="6" height="49" fill="#b498d4"/><rect x="0.5" y="0.5" width="14" height="79" fill="none" stroke="#a0a0a0"/><path d="M0 15.5H15M0 65.5H15" stroke="#a0a0a0"/><path d="M7.5 3L13 13H2Z" fill="#9a9ac0" shape-rendering="auto"/><path d="M7.5 76L13 67H2Z" fill="#9a9ac0" shape-rendering="auto"/></svg>
<div style="position:absolute;left:1299px;top:477px;width:42px;height:16px;background:#000;"></div>
<div class="ax" style="left:1301px;top:478px;color:#fff">0.9200</div>
<div style="position:absolute;left:0;top:669px;width:1341px;height:14px;background:#cccccc"></div>
<div style="position:absolute;left:614px;top:669px;width:473px;height:14px;background:#c0a0e0"></div>
<svg style="position:absolute;left:614px;top:669px" width="473" height="14"><rect x="0.5" y="0.5" width="15" height="13" fill="#c0a8dc" stroke="#a898c0"/><path d="M3 7L12 2V12Z" fill="#9a9ac8"/><rect x="457.5" y="0.5" width="15" height="13" fill="#c0a8dc" stroke="#a898c0"/><path d="M470 7L461 2V12Z" fill="#9a9ac8"/></svg>
<div class="ax" style="left:13.5px;top:669px;width:60px;text-align:center;line-height:14px">20</div>
<div class="ax" style="left:125px;top:669px;width:60px;text-align:center;line-height:14px">26</div>
<div class="ax" style="left:240.5px;top:669px;width:60px;text-align:center;line-height:14px">2</div>
<div class="ax" style="left:368.5px;top:669px;width:60px;text-align:center;line-height:14px">9</div>
<div class="ax" style="left:515.5px;top:669px;width:60px;text-align:center;line-height:14px">17</div>
<div class="ax" style="left:621px;top:669px;width:60px;text-align:center;line-height:14px">23</div>
<div class="ax" style="left:741px;top:669px;width:60px;text-align:center;line-height:14px">2</div>
<div class="ax" style="left:876px;top:669px;width:60px;text-align:center;line-height:14px">9</div>
<div class="ax" style="left:1024px;top:669px;width:60px;text-align:center;line-height:14px">16</div>
<div class="ax" style="left:1167px;top:669px;width:60px;text-align:center;line-height:14px">23</div>
<svg style="position:absolute;left:0px;top:650px" width="36" height="20"><defs><linearGradient id="ag" x1="0" y1="0" x2="0" y2="1"><stop offset="0" stop-color="#500000"/><stop offset="1" stop-color="#e80000"/></linearGradient></defs><path d="M4.1 12.5L16.6 6.2L15 10L29.9 8.2V16.9L15 15L15.8 18.8Z" fill="url(#ag)"/></svg>
<svg style="position:absolute;left:0px;top:676px" width="14" height="7"><ellipse cx="3" cy="9" rx="9" ry="5" fill="#d8e8f0" stroke="#1a5a90" stroke-width="1.3"/></svg>
<div style="position:absolute;left:1px;top:669px;width:1px;height:10px;background:#a8a8a8"></div>
<div style="position:absolute;left:1299px;top:670px;width:19px;height:13px;background:#f0f0f0;"></div>
<svg style="position:absolute;left:1299px;top:670px" width="19" height="13"><rect x="3" y="4" width="11" height="9" fill="#fff"/><rect x="5" y="5" width="1" height="4" fill="#000"/><rect x="8" y="5" width="1" height="4" fill="#000"/><rect x="11" y="5" width="1" height="4" fill="#000"/><path d="M3 11H12L13 10L15 13H3Z" fill="#000"/></svg>
</div></body></html>
